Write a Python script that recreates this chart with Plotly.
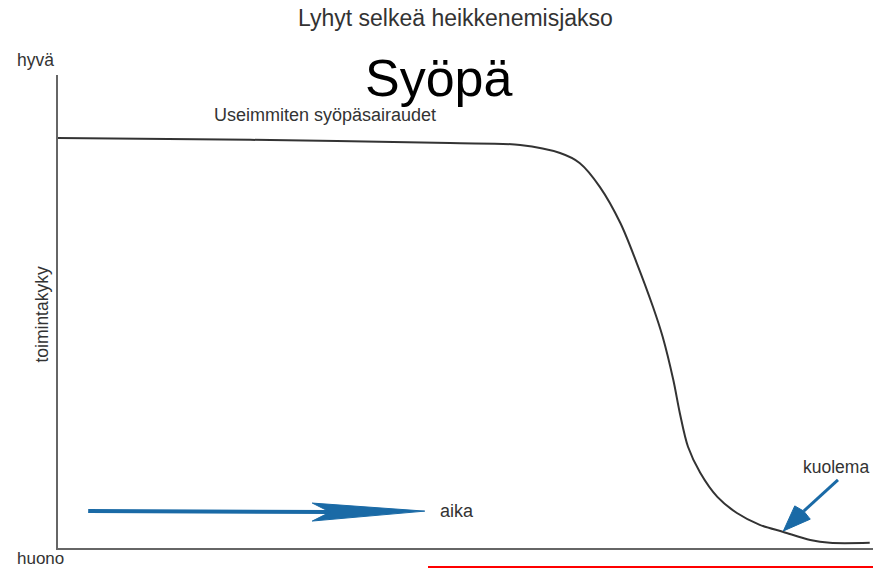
import plotly.graph_objects as go

# Toimintakyky-käyrä (aika 0-100, toimintakyky 0-100)
aika = [0, 23.6, 48.1, 56.7, 61.6, 64.0, 66.5, 69.0, 71.0, 73.0, 74.2, 75.5,
        76.3, 77.3, 78.8, 80.9, 83.3, 86.1, 89.0, 92.3, 94.7, 99.6]
toimintakyky = [86.7, 86.3, 85.6, 85.2, 83.5, 81.4, 76.3, 68.7, 60.3, 51.0, 44.6, 35.5,
                28.5, 21.4, 15.9, 10.8, 7.4, 4.9, 3.4, 1.7, 1.1, 1.1]

# Aika-nuoli
aika_nuoli_x = [3.7, 33.4]
aika_nuoli_y = [7.8, 7.6]
aika_karki_x = [31.2, 45.0, 31.2, 33.4, 31.2]
aika_karki_y = [9.5, 7.8, 5.7, 7.6, 9.5]

# Kuolema-nuoli
kuolema_nuoli_x = [95.7, 91.5]
kuolema_nuoli_y = [14.4, 7.8]
kuolema_karki_x = [90.4, 89.0, 92.3, 91.5, 90.4]
kuolema_karki_y = [8.9, 3.6, 6.1, 7.8, 8.9]

SININEN = "#1a6aa6"
TEKSTI = "#333333"
FONTTI = "Arial, Liberation Sans, sans-serif"

fig = go.Figure()

fig.add_trace(go.Scatter(x=aika, y=toimintakyky, mode="lines",
                         line=dict(color="#333333", width=2, shape="spline", smoothing=0.9),
                         hoverinfo="skip"))

# nuolet
fig.add_trace(go.Scatter(x=aika_nuoli_x, y=aika_nuoli_y, mode="lines",
                         line=dict(color=SININEN, width=4), hoverinfo="skip"))
fig.add_trace(go.Scatter(x=aika_karki_x, y=aika_karki_y, mode="lines", fill="toself",
                         fillcolor=SININEN, line=dict(color=SININEN, width=1), hoverinfo="skip"))
fig.add_trace(go.Scatter(x=kuolema_nuoli_x, y=kuolema_nuoli_y, mode="lines",
                         line=dict(color=SININEN, width=3), hoverinfo="skip"))
fig.add_trace(go.Scatter(x=kuolema_karki_x, y=kuolema_karki_y, mode="lines", fill="toself",
                         fillcolor=SININEN, line=dict(color=SININEN, width=1), hoverinfo="skip"))

# tekstit (sijainti akselin yksiköissä 0-100)
tekstit = [
    ("Lyhyt selkeä heikkenemisjakso", 48.8, 112.1, 23, TEKSTI, 0),
    ("Syöpä", 46.7, 99.4, 52, "#000000", 0),
    ("Useimmiten syöpäsairaudet", 32.8, 91.5, 18, TEKSTI, 0),
    ("hyvä", -2.7, 103.2, 17.5, TEKSTI, 0),
    ("huono", -2.1, -2.3, 17, TEKSTI, 0),
    ("toimintakyky", -2.0, 49.5, 17.5, TEKSTI, -90),
    ("aika", 49.0, 7.8, 18, TEKSTI, 0),
    ("kuolema", 95.5, 17.1, 17.5, TEKSTI, 0),
]
for teksti, x, y, koko, vari, kulma in tekstit:
    fig.add_annotation(x=x / 100, y=y / 100, xref="paper", yref="paper", text=teksti,
                       showarrow=False, textangle=kulma, xanchor="center", yanchor="middle",
                       font=dict(family=FONTTI, size=koko, color=vari))

# punainen viiva alareunassa
fig.add_shape(type="line", xref="paper", yref="paper", x0=0.454, x1=1.0,
              y0=-0.0402, y1=-0.0402, line=dict(color="#ff0000", width=2))

akseli = dict(range=[0, 100], showline=True, linecolor="#666666", linewidth=2,
              showgrid=False, zeroline=False, showticklabels=False, ticks="", fixedrange=True)

fig.update_layout(
    width=873, height=569,
    margin=dict(l=58, r=0, t=75, b=21),
    paper_bgcolor="white", plot_bgcolor="white",
    showlegend=False,
    xaxis=akseli,
    yaxis=akseli,
)

fig.write_html("out.html", config={"displayModeBar": False},
               post_script="document.body.style.margin='0';document.body.style.overflow='hidden';")
